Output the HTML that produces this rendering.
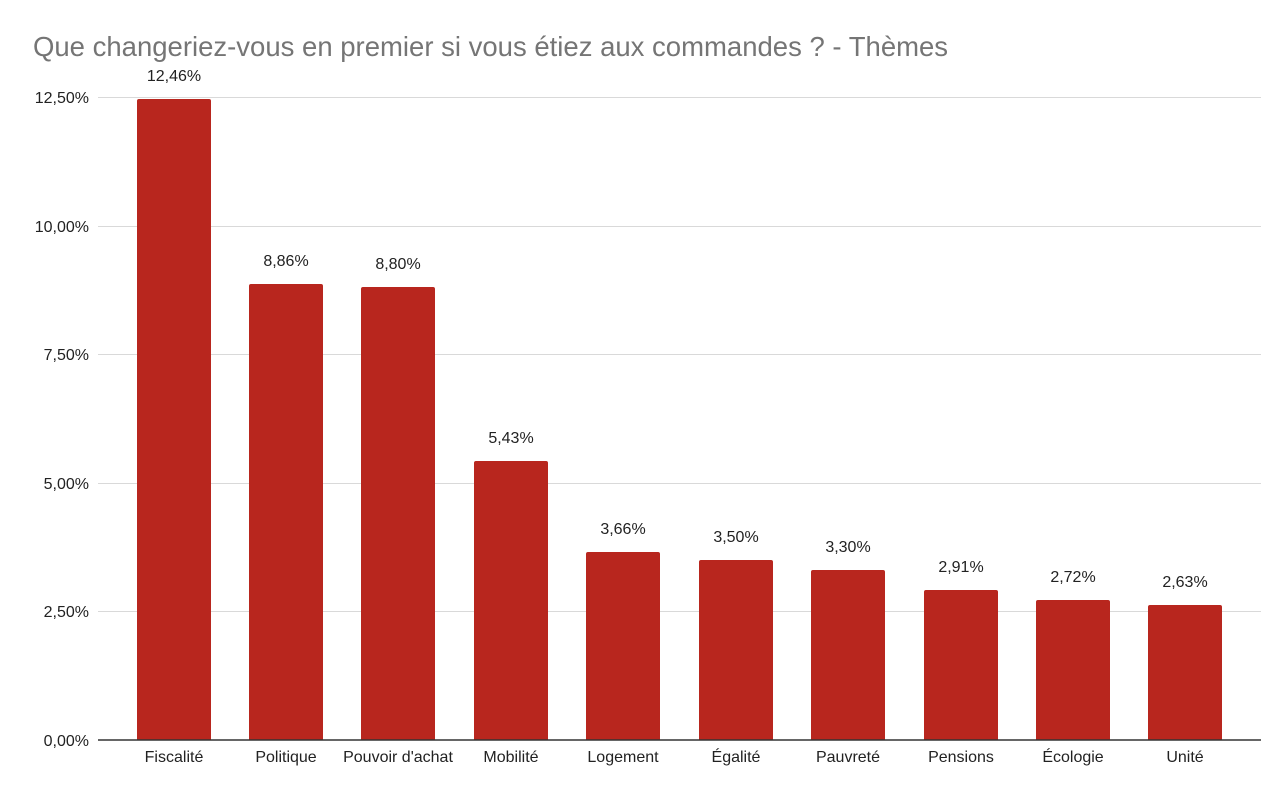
<!DOCTYPE html>
<html><head><meta charset="utf-8"><style>
html,body{margin:0;background:#fff;overflow:hidden;width:1275px;height:787px;}
svg{display:block;font-family:"Liberation Sans",Arial,sans-serif;}
</style></head><body>
<svg width="1275" height="787" viewBox="0 0 1275 787">
<text x="33" y="56" font-size="27.5" fill="#757575">Que changeriez-vous en premier si vous étiez aux commandes ? - Thèmes</text>
<g stroke="#d9d9d9" stroke-width="1">
<line x1="98" x2="1261" y1="97.5" y2="97.5"/>
<line x1="98" x2="1261" y1="226.5" y2="226.5"/>
<line x1="98" x2="1261" y1="354.5" y2="354.5"/>
<line x1="98" x2="1261" y1="483.5" y2="483.5"/>
<line x1="98" x2="1261" y1="611.5" y2="611.5"/>
</g>
<g font-size="16" fill="#222" text-anchor="end">
<text x="89" y="103">12,50%</text>
<text x="89" y="232">10,00%</text>
<text x="89" y="360">7,50%</text>
<text x="89" y="489">5,00%</text>
<text x="89" y="617">2,50%</text>
<text x="89" y="746">0,00%</text>
</g>
<g fill="#b8261e">
<rect x="137" y="99" width="74" height="645" rx="2"/>
<rect x="249" y="284" width="74" height="460" rx="2"/>
<rect x="361" y="287" width="74" height="457" rx="2"/>
<rect x="474" y="461" width="74" height="283" rx="2"/>
<rect x="586" y="552" width="74" height="192" rx="2"/>
<rect x="699" y="560" width="74" height="184" rx="2"/>
<rect x="811" y="570" width="74" height="174" rx="2"/>
<rect x="924" y="590" width="74" height="154" rx="2"/>
<rect x="1036" y="600" width="74" height="144" rx="2"/>
<rect x="1148" y="605" width="74" height="139" rx="2"/>
</g>
<rect x="98" y="740" width="1163" height="8" fill="#fff"/>
<line x1="98" x2="1261" y1="740" y2="740" stroke="#333" stroke-width="1.5"/>
<g font-size="16" fill="#222" text-anchor="middle">
<text x="174" y="81">12,46%</text>
<text x="286" y="266">8,86%</text>
<text x="398" y="269">8,80%</text>
<text x="511" y="443">5,43%</text>
<text x="623" y="534">3,66%</text>
<text x="736" y="542">3,50%</text>
<text x="848" y="552">3,30%</text>
<text x="961" y="572">2,91%</text>
<text x="1073" y="582">2,72%</text>
<text x="1185" y="587">2,63%</text>
<text x="174" y="762">Fiscalité</text>
<text x="286" y="762">Politique</text>
<text x="398" y="762">Pouvoir d'achat</text>
<text x="511" y="762">Mobilité</text>
<text x="623" y="762">Logement</text>
<text x="736" y="762">Égalité</text>
<text x="848" y="762">Pauvreté</text>
<text x="961" y="762">Pensions</text>
<text x="1073" y="762">Écologie</text>
<text x="1185" y="762">Unité</text>
</g>
</svg>
</body></html>
